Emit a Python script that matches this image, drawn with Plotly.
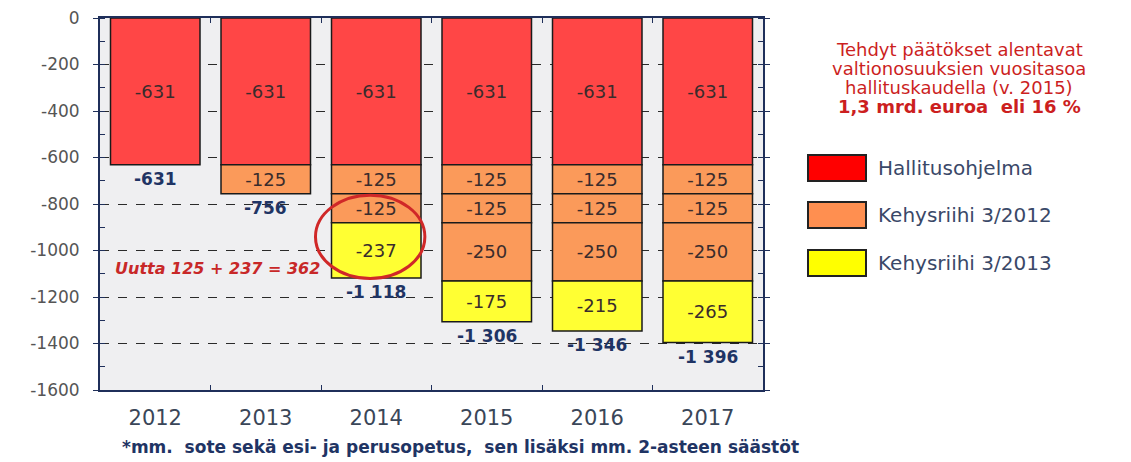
import plotly.graph_objects as go

# ---------------- data ----------------
years = ["2012", "2013", "2014", "2015", "2016", "2017"]
hallitusohjelma = [-631, -631, -631, -631, -631, -631]
kehys2012_a = [None, -125, -125, -125, -125, -125]
kehys2012_b = [None, None, -125, -125, -125, -125]
kehys2012_c = [None, None, None, -250, -250, -250]
kehys2013 = [None, None, -237, -175, -215, -265]
ytick_vals = [0, -200, -400, -600, -800, -1000, -1200, -1400, -1600]
ytick_text = ["0", "-200", "-400", "-600", "-800", "-1000", "-1200", "-1400", "-1600"]
legend_names = ["Hallitusohjelma", "Kehysriihi 3/2012", "Kehysriihi 3/2013"]
note_lines = ["Tehdyt päätökset alentavat", "valtionosuuksien vuositasoa",
              "hallituskaudella (v. 2015)", "<b>1,3 mrd. euroa  eli 16 %</b>"]
uutta_text = "Uutta 125 + 237 = 362"
footnote = "*mm.  sote sekä esi- ja perusopetus,  sen lisäksi mm. 2-asteen säästöt"

# ---------------- style / layout ----------------
W, H = 1131, 462
PL, PR, PT, PB = 100, 763, 18, 390   # plot area in page pixels
L, T = PL, PT
R, B = W - PR, H - PB
PW, PH = PR - PL, PB - PT
def px(x): return (x - PL) / PW
def py(y): return (PB - y) / PH

RED, ORANGE, YELLOW = "#FF4646", "#FB9A5A", "#FFFF33"
LEG_COLORS = ["#FF0000", "#FF8F50", "#FFFF00"]
FONT = "DejaVu Sans"
NAVY = "#1F3464"

def fmt(v):
    s = f"{abs(v):,}".replace(",", " ")
    return "-" + s if v < 0 else s

series = [
    (hallitusohjelma, RED),
    (kehys2012_a, ORANGE),
    (kehys2012_b, ORANGE),
    (kehys2012_c, ORANGE),
    (kehys2013, YELLOW),
]

fig = go.Figure()
for vals, col in series:
    fig.add_trace(go.Bar(
        x=years, y=vals, width=0.81,
        marker=dict(color=col, line=dict(color="#1a1a1a", width=1.5)),
        text=[fmt(v) if v is not None else "" for v in vals],
        textposition="inside", insidetextanchor="middle",
        textfont=dict(family=FONT, size=18, color="#3a2c2c"),
        textangle=0, constraintext="none",
        showlegend=False, hoverinfo="skip",
    ))

# totals below bars
totals = [sum(v[i] for v, _ in series if v[i] is not None) for i in range(len(years))]
for i, tot in enumerate(totals):
    fig.add_annotation(x=i, y=tot, xref="x", yref="y", text=f"<b>{fmt(tot)}</b>",
                       showarrow=False, yanchor="middle", yshift=-14,
                       font=dict(family=FONT, size=17, color=NAVY))

# red circle highlight around 2014 new cuts
fig.add_shape(type="circle", xref="x", yref="y", x0=1.45, x1=2.44, y0=-762, y1=-1120,
              line=dict(color="#D02828", width=3))

fig.add_annotation(xref="paper", yref="paper", x=px(322), y=py(268), xanchor="right",
                   yanchor="middle",
                   text=f"<b><i>{uutta_text}</i></b>", showarrow=False,
                   font=dict(family=FONT, size=16, color="#C82828"))

# right-side note
for i, line in enumerate(note_lines):
    fig.add_annotation(xref="paper", yref="paper", x=px(959), y=py(49 + 19.3 * i),
                       xanchor="center", yanchor="middle", text=line, showarrow=False,
                       font=dict(family=FONT, size=18, color="#CC1F1F"))

# manual legend
leg_y = [168, 215, 263]
for name, col, yc in zip(legend_names, LEG_COLORS, leg_y):
    fig.add_shape(type="rect", xref="paper", yref="paper",
                  x0=px(808), x1=px(866), y0=py(yc + 13), y1=py(yc - 13),
                  fillcolor=col, line=dict(color="#222222", width=2))
    fig.add_annotation(xref="paper", yref="paper", x=px(876), y=py(yc), xanchor="left",
                       yanchor="middle", text=name, showarrow=False,
                       font=dict(family=FONT, size=20, color="#3A4868"))

# footnote
fig.add_annotation(xref="paper", yref="paper", x=px(460), y=py(447), xanchor="center",
                   yanchor="middle", text=f"<b>{footnote}</b>", showarrow=False,
                   font=dict(family=FONT, size=17, color=NAVY))

fig.update_layout(
    width=W, height=H, barmode="relative",
    margin=dict(l=L, r=R, t=T, b=B, autoexpand=False),
    paper_bgcolor="white", plot_bgcolor="#EFEFF1",
)
fig.update_xaxes(
    type="category", range=[-0.5, 5.5], showline=True, linecolor="#1F2F5A", linewidth=2,
    mirror="ticks", ticks="inside", tickson="boundaries", ticklen=5, tickcolor="#1F2F5A",
    showgrid=False, ticklabelstandoff=8,
    tickfont=dict(family=FONT, size=21, color="#3A4658"),
)
fig.update_yaxes(
    range=[-1600, 0], tickvals=ytick_vals, ticktext=ytick_text,
    showline=True, linecolor="#1F2F5A", linewidth=2, mirror="ticks",
    ticks="outside", ticklen=5, tickcolor="#1F2F5A", ticklabelstandoff=10,
    ticklabeloverflow="allow",
    minor=dict(dtick=100, ticks="inside", ticklen=5, tickcolor="#1F2F5A", showgrid=False),
    showgrid=True, gridcolor="#2a2a2a", griddash="dash", gridwidth=1,
    zeroline=False, tickfont=dict(family=FONT, size=17, color="#555555"),
)

fig.write_html(
    "out.html",
    config={"displayModeBar": False},
    post_script="document.body.style.margin='0';document.body.style.overflow='hidden';",
)
